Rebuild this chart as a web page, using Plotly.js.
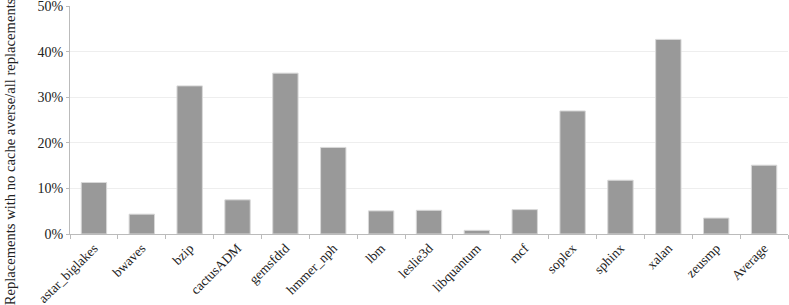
<!DOCTYPE html>
<html><head><meta charset="utf-8">
<script src="https://cdn.plot.ly/plotly-3.0.1.min.js"></script>
<style>html,body{margin:0;padding:0;background:#fff}#c{width:789px;height:305px}</style>
</head><body><div id="c"></div>
<script>
const categories = ["astar_biglakes","bwaves","bzip","cactusADM","gemsfdtd","hmmer_nph","lbm","leslie3d","libquantum","mcf","soplex","sphinx","xalan","zeusmp","Average"];
const values = [0.113,0.0435,0.325,0.075,0.353,0.190,0.0507,0.052,0.008,0.0535,0.270,0.118,0.427,0.035,0.151];
const yTickVals = [0,0.1,0.2,0.3,0.4,0.5];
const yTickText = ["0%","10%","20%","30%","40%","50%"];
const yTitle = "Replacements with no cache averse/all replacements";

const font = {family: "Liberation Serif, DejaVu Serif, serif", size: 14, color: "#222"};
Plotly.newPlot("c", [{
  type: "bar", x: categories, y: values,
  marker: {color: "#999999", line: {color: "#d8d8d8", width: 1}},
  width: 0.53
}], {
  width: 789, height: 305,
  margin: {l: 70, r: 1, t: 6, b: 71},
  paper_bgcolor: "#fff", plot_bgcolor: "#fff",
  font: font,
  showlegend: false,
  xaxis: {
    type: "category", tickangle: -45, tickson: "boundaries",
    ticks: "outside", ticklen: 4, tickcolor: "#bbb",
    showline: true, linecolor: "#bbb", linewidth: 1,
    showgrid: false, tickfont: {size: 13.5}
  },
  yaxis: {
    range: [0, 0.5003], tickvals: yTickVals, ticktext: yTickText,
    ticks: "outside", ticklen: 3, tickcolor: "#bbb",
    showline: true, linecolor: "#bbb", linewidth: 1,
    gridcolor: "#eeeeee", zeroline: false, tickfont: {size: 14},
    ticklabeloverflow: "allow"
  },
  annotations: [{
    text: yTitle, textangle: -90, showarrow: false,
    xref: "paper", yref: "paper", x: -0.083, y: 0.36,
    xanchor: "center", yanchor: "middle",
    font: {size: 14.6, color: "#222"}
  }]
}, {staticPlot: true});
</script></body></html>
